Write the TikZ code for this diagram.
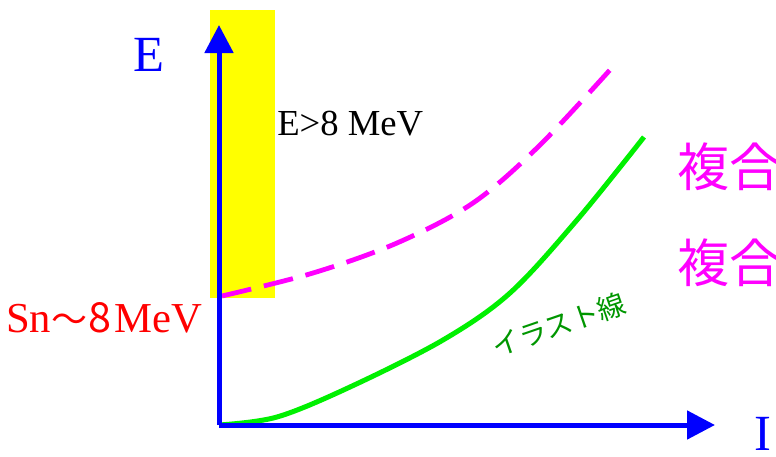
\documentclass[tikz,border=0pt]{standalone}
\usepackage{fontspec}
\setmainfont{Liberation Serif}
\newfontfamily\jp{Noto Sans CJK JP}
\usetikzlibrary{arrows.meta}
\definecolor{axisblue}{RGB}{0,0,255}
\definecolor{hlyellow}{RGB}{255,255,0}
\definecolor{lmagenta}{RGB}{255,0,255}
\definecolor{lgreen}{RGB}{0,240,0}
\definecolor{dgreen}{RGB}{0,150,0}
\definecolor{lred}{RGB}{255,0,0}
\begin{document}
\begin{tikzpicture}[x=0.75pt,y=-0.75pt,
  axis/.style={draw=axisblue,line width=3.75pt,-{Triangle[length=21pt,width=21pt]}},
  lbl/.style={inner sep=0pt,anchor=base west},
  yrast/.style={draw=lgreen,line width=3.75pt},
  compound/.style={draw=lmagenta,line width=3.6pt,dash pattern=on 22.5pt off 9.75pt},
]
\useasboundingbox (0,0) rectangle (776,457);
\fill[hlyellow] (210,10) rectangle (275,298);

\coordinate (O) at (219,425);
\coordinate (Etop) at (219,25);
\coordinate (Iend) at (715,425);

% curves
\draw[compound] plot[smooth,tension=0.55] coordinates {(222,296) (313,273) (397,243) (473,203) (540,145) (618,61)};
\draw[yrast] plot[smooth,tension=0.55] coordinates {(219,425) (277,417) (350,387) (443,340) (510,293) (577,220) (644,137)};

% axes
\draw[axis] (O) -- (Etop);
\draw[axis] (O) -- (Iend);

% labels
\node[lbl,text=axisblue,font=\fontsize{38}{40}\selectfont] (Elab) at (133,71) {E};
\node[lbl,text=axisblue,font=\fontsize{38}{40}\selectfont] (Ilab) at (754,450) {I};
\node[lbl,text=black,font=\fontsize{27.5}{30}\selectfont] (Ecut) at (277,135) {E>8 MeV};
\node[lbl,text=lred,font=\fontsize{32}{34}\selectfont] (Sn) at (6,332) {Sn{\jp\fontsize{27}{28}\selectfont 〜}\hspace{1pt}{\jp\fontsize{31}{32}\selectfont 8}\hspace{2pt}MeV};
\node[inner sep=0pt,text=dgreen,font=\jp\fontsize{21}{22}\selectfont,rotate=19] (yl) at (559,325) {イラスト線};
\node[inner sep=0pt,anchor=west,text=lmagenta,font=\jp\fontsize{39}{41}\selectfont] (c1) at (677,167) {複合};
\node[inner sep=0pt,anchor=west,text=lmagenta,font=\jp\fontsize{39}{41}\selectfont] (c2) at (677,263) {複合};
\end{tikzpicture}
\end{document}
